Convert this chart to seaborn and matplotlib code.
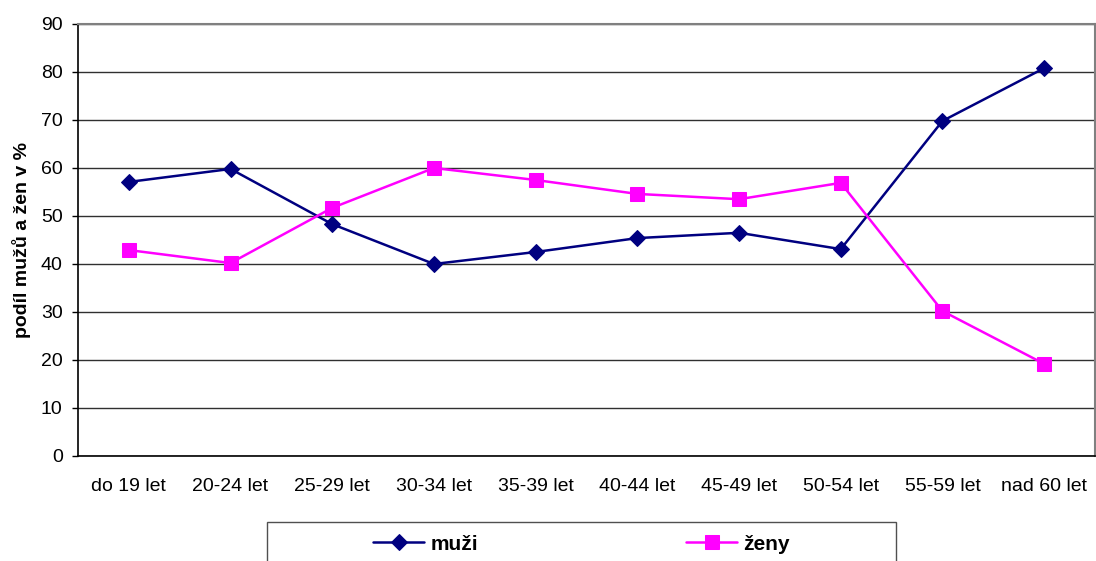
import matplotlib
matplotlib.use("Agg")
import matplotlib.pyplot as plt
import seaborn as sns
import pandas as pd
from matplotlib.patches import Rectangle

categories = ["do 19 let", "20-24 let", "25-29 let", "30-34 let", "35-39 let",
              "40-44 let", "45-49 let", "50-54 let", "55-59 let", "nad 60 let"]
muzi = [57.1, 59.8, 48.3, 40.0, 42.5, 45.4, 46.5, 43.1, 69.8, 80.8]
zeny = [42.9, 40.2, 51.7, 60.0, 57.5, 54.6, 53.5, 56.9, 30.2, 19.2]
series_names = ["muži", "ženy"]
yticks = [0, 10, 20, 30, 40, 50, 60, 70, 80, 90]

sns.set_theme(style="white")
plt.rcParams['font.family'] = ['Liberation Sans', 'DejaVu Sans']
for k in ["text.color", "axes.labelcolor", "xtick.color", "ytick.color"]:
    plt.rcParams[k] = "black"

df = pd.DataFrame({
    "kat": categories * 2,
    "x": list(range(len(categories))) * 2,
    "val": muzi + zeny,
    "serie": [series_names[0]] * len(categories) + [series_names[1]] * len(categories),
})

W, H = 1096, 561
fig = plt.figure(figsize=(W / 100, H / 100), dpi=100)
ax = fig.add_axes([78 / W, 1 - 456 / H, (1095 - 78) / W, (456 - 24) / H])

palette = {"muži": "#000080", "ženy": "#FF00FF"}
markers = {"muži": "D", "ženy": "s"}
sizes = {"muži": 8.5, "ženy": 10.5}
for name in series_names:
    sub = df[df["serie"] == name]
    sns.lineplot(data=sub, x="x", y="val", ax=ax, color=palette[name],
                 marker=markers[name], markersize=sizes[name],
                 markeredgecolor=palette[name], linewidth=1.8, label=name,
                 legend=False)

ax.set_xlim(-0.5, len(categories) - 0.5)
ax.set_ylim(0, 90)
ax.set_yticks(yticks)
ax.set_yticklabels([str(t) for t in yticks], fontsize=14)
ax.set_xticks(range(len(categories)))
ax.set_xticklabels(categories, fontsize=14)
ax.set_xticks([i + 0.5 for i in range(-1, len(categories))], minor=True)
ax.tick_params(axis="x", which="major", length=0, pad=16)
ax.tick_params(axis="x", which="minor", length=5, color="black", width=1, direction="out")
ax.tick_params(axis="y", length=4, color="black", width=1, direction="out", left=True, pad=7)
ax.set_xlabel("")
ax.set_ylabel("podíl mužů a žen v %", fontsize=14, fontweight="bold")
ax.yaxis.set_label_coords(-0.046, 0.5)
ax.yaxis.grid(True, color="#303030", linewidth=1)
ax.set_axisbelow(True)
for s in ["top", "right"]:
    ax.spines[s].set_color("#808080")
    ax.spines[s].set_linewidth(1.5)
for s in ["left", "bottom"]:
    ax.spines[s].set_color("black")
    ax.spines[s].set_linewidth(1.2)

# legend frame running off the bottom edge
fig.patches.append(Rectangle((267 / W, -0.05), (896 - 267) / W, 0.05 + (H - 522) / H,
                             transform=fig.transFigure, fill=False,
                             edgecolor="#505050", linewidth=1))
handles, labels = ax.get_legend_handles_labels()
leg = fig.legend(handles, labels, loc="center left",
                 bbox_to_anchor=(373 / W, 1 - 544 / H), ncol=2, frameon=False,
                 prop={"size": 15, "weight": "bold"}, handlelength=2.45,
                 columnspacing=10.0, handletextpad=0.3, borderaxespad=0,
                 borderpad=0)

fig.savefig("out.png", dpi=100)
